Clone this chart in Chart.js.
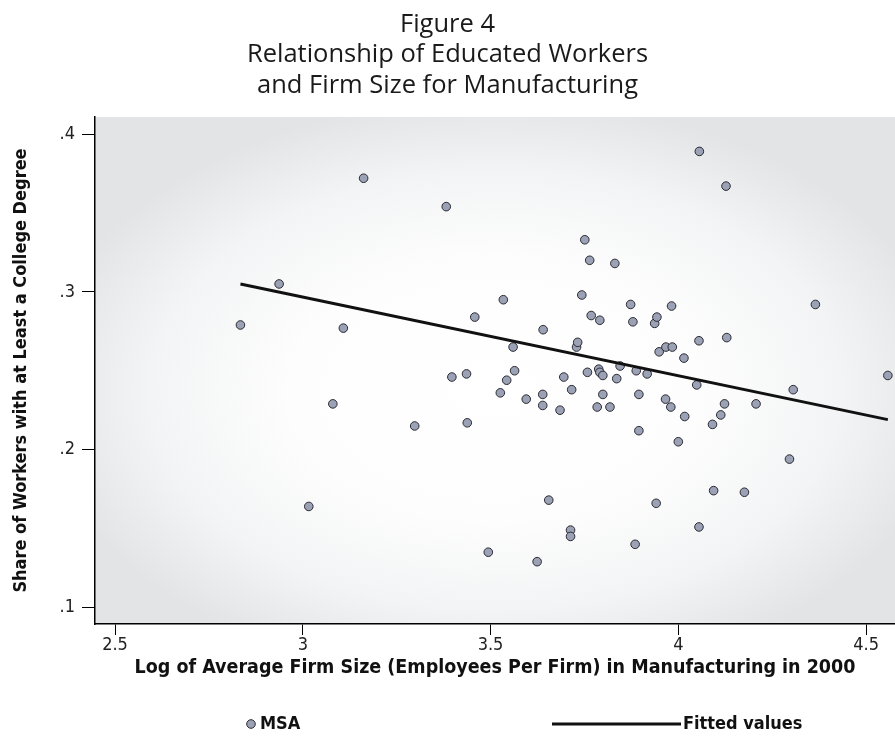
<!DOCTYPE html>
<html><head><meta charset="utf-8">
<script src="https://cdn.jsdelivr.net/npm/chart.js@4.4.1/dist/chart.umd.min.js"></script>
<style>html,body{margin:0;padding:0;background:#fff;}#wrap{width:895px;height:746px;position:relative;}</style>
</head><body><div id="wrap"><canvas id="c" width="895" height="746"></canvas></div>
<script>
const titleLines = ["Figure 4", "Relationship of Educated Workers", "and Firm Size for Manufacturing"];
const xTitle = "Log of Average Firm Size (Employees Per Firm) in Manufacturing in 2000";
const yTitle = "Share of Workers with at Least a College Degree";
const seriesNames = ["MSA", "Fitted values"];
const xTicks = [2.5, 3, 3.5, 4, 4.5];
const yTicks = [0.1, 0.2, 0.3, 0.4];

const msaX = [2.834, 2.937, 3.108, 3.080, 3.016, 3.162, 3.382, 3.298, 3.397, 3.436,
  3.438, 3.458, 3.494, 3.526, 3.534, 3.543, 3.560, 3.564, 3.595, 3.624,
  3.639, 3.639, 3.640, 3.655, 3.685, 3.695, 3.713, 3.713, 3.716, 3.729,
  3.732, 3.743, 3.751, 3.758, 3.764, 3.768, 3.784, 3.788, 3.791, 3.791,
  3.799, 3.799, 3.818, 3.831, 3.836, 3.845, 3.873, 3.879, 3.885, 3.888,
  3.895, 3.895, 3.917, 3.937, 3.941, 3.943, 3.949, 3.966, 3.967, 3.980,
  3.982, 3.984, 4.000, 4.015, 4.017, 4.049, 4.055, 4.055, 4.056, 4.091,
  4.094, 4.113, 4.123, 4.127, 4.129, 4.176, 4.207, 4.296, 4.306, 4.365,
  4.558];
const msaY = [0.279, 0.305, 0.277, 0.229, 0.164, 0.372, 0.354, 0.215, 0.246, 0.248,
  0.217, 0.284, 0.135, 0.236, 0.295, 0.244, 0.265, 0.250, 0.232, 0.129,
  0.235, 0.228, 0.276, 0.168, 0.225, 0.246, 0.149, 0.145, 0.238, 0.265,
  0.268, 0.298, 0.333, 0.249, 0.320, 0.285, 0.227, 0.251, 0.249, 0.282,
  0.247, 0.235, 0.227, 0.318, 0.245, 0.253, 0.292, 0.281, 0.140, 0.250,
  0.235, 0.212, 0.248, 0.280, 0.166, 0.284, 0.262, 0.232, 0.265, 0.227,
  0.291, 0.265, 0.205, 0.258, 0.221, 0.241, 0.269, 0.151, 0.389, 0.216,
  0.174, 0.222, 0.229, 0.367, 0.271, 0.173, 0.229, 0.194, 0.238, 0.292,
  0.247];
const fittedX = [2.834, 4.558];
const fittedY = [0.305, 0.219];

const FONT = "'DejaVu Sans Condensed', 'Liberation Sans Narrow', 'Roboto', sans-serif";
const TITLE_FONT = "'Open Sans', 'Lato', 'Noto Sans', sans-serif";
const POINT_FILL = '#9ca2b6';
const POINT_EDGE = '#2a2a32';

const bgPlugin = {
  id: 'plotBg',
  beforeDraw(chart) {
    const {ctx, chartArea: a} = chart;
    const cx = (a.left + a.right) / 2, cy = (a.top + a.bottom) / 2 + 20;
    const rx = (a.right - a.left) / 2, ry = (a.bottom - a.top) / 2;
    ctx.save();
    ctx.beginPath(); ctx.rect(a.left, a.top, a.right - a.left, a.bottom - a.top); ctx.clip();
    ctx.translate(cx, cy); ctx.scale(1, ry / rx);
    const g = ctx.createRadialGradient(0, 0, 0, 0, 0, rx * 1.15);
    g.addColorStop(0, '#ffffff');
    g.addColorStop(0.45, '#fdfdfd');
    g.addColorStop(0.75, '#f3f4f5');
    g.addColorStop(1, '#e2e4e6');
    ctx.fillStyle = g;
    ctx.fillRect(-rx * 1.3, -rx * 1.3, rx * 2.6, rx * 2.6);
    ctx.restore();
  }
};

const legendPlugin = {
  id: 'customLegend',
  afterDraw(chart) {
    const ctx = chart.ctx;
    const ds = chart.data.datasets;
    const y = 724;
    ctx.save();
    ctx.font = "bold 18px " + FONT;
    ctx.textBaseline = 'middle';
    ctx.beginPath();
    ctx.arc(251, y, 4.3, 0, Math.PI * 2);
    ctx.fillStyle = ds[0].backgroundColor; ctx.fill();
    ctx.lineWidth = 1; ctx.strokeStyle = ds[0].borderColor; ctx.stroke();
    ctx.fillStyle = '#111'; ctx.textAlign = 'left';
    ctx.fillText(ds[0].label, 260, y);
    ctx.beginPath(); ctx.moveTo(552, y); ctx.lineTo(681, y);
    ctx.lineWidth = ds[1].borderWidth; ctx.strokeStyle = ds[1].borderColor; ctx.stroke();
    ctx.fillText(ds[1].label, 683, y);
    ctx.restore();
  }
};

new Chart(document.getElementById('c'), {
  type: 'scatter',
  data: {
    datasets: [
      {
        label: seriesNames[0],
        data: msaX.map((x, i) => ({x: x, y: msaY[i]})),
        backgroundColor: POINT_FILL, borderColor: POINT_EDGE, borderWidth: 1,
        pointRadius: 4.3, pointHoverRadius: 4.3, order: 1
      },
      {
        label: seriesNames[1],
        type: 'line',
        data: fittedX.map((x, i) => ({x: x, y: fittedY[i]})),
        borderColor: '#111', borderWidth: 3, pointRadius: 0, fill: false, showLine: true, order: 0
      }
    ]
  },
  options: {
    responsive: false, animation: false, devicePixelRatio: 1,
    layout: {autoPadding: false, padding: {left: 0, right: 0, top: 0, bottom: 50}},
    plugins: {
      legend: {display: false},
      tooltip: {enabled: false},
      title: {
        display: true, text: titleLines, color: '#1a1a1a',
        font: {family: TITLE_FONT, size: 25.5, weight: 'normal', lineHeight: '30.5px'},
        padding: {top: 9, bottom: 16.5}
      }
    },
    scales: {
      x: {
        type: 'linear', min: 2.4467, max: 4.577,
        afterFit(s) { s.height = 72; s.paddingLeft = 0; s.paddingRight = 0; },
        afterBuildTicks(s) { s.ticks = xTicks.map(v => ({value: v})); },
        ticks: {
          color: '#222', font: {family: FONT, size: 18}, padding: 0,
          maxRotation: 0, autoSkip: false,
          callback: v => String(v)
        },
        grid: {display: true, drawOnChartArea: false, drawTicks: true, tickLength: 11, color: '#000', lineWidth: 1},
        border: {display: true, color: '#000', width: 1.5},
        title: {display: true, text: xTitle, color: '#111',
          font: {family: FONT, size: 19.5, weight: 'bold', lineHeight: 1.2}, padding: {top: 0, bottom: 16}}
      },
      y: {
        type: 'linear', min: 0.0895, max: 0.4108,
        afterFit(s) { s.width = 95; s.paddingTop = 0; s.paddingBottom = 0; },
        afterBuildTicks(s) { s.ticks = yTicks.map(v => ({value: v})); },
        ticks: {
          color: '#222', font: {family: FONT, size: 18}, padding: 7,
          callback: v => v.toFixed(1).replace(/^0/, '')
        },
        grid: {display: true, drawOnChartArea: false, drawTicks: true, tickLength: 13, color: '#000', lineWidth: 1},
        border: {display: true, color: '#000', width: 1.5},
        title: {display: true, text: yTitle, color: '#111',
          font: {family: FONT, size: 18, weight: 'bold', lineHeight: 1.2}, padding: {top: 11, bottom: 0}}
      }
    }
  },
  plugins: [bgPlugin, legendPlugin]
});
</script></body></html>
